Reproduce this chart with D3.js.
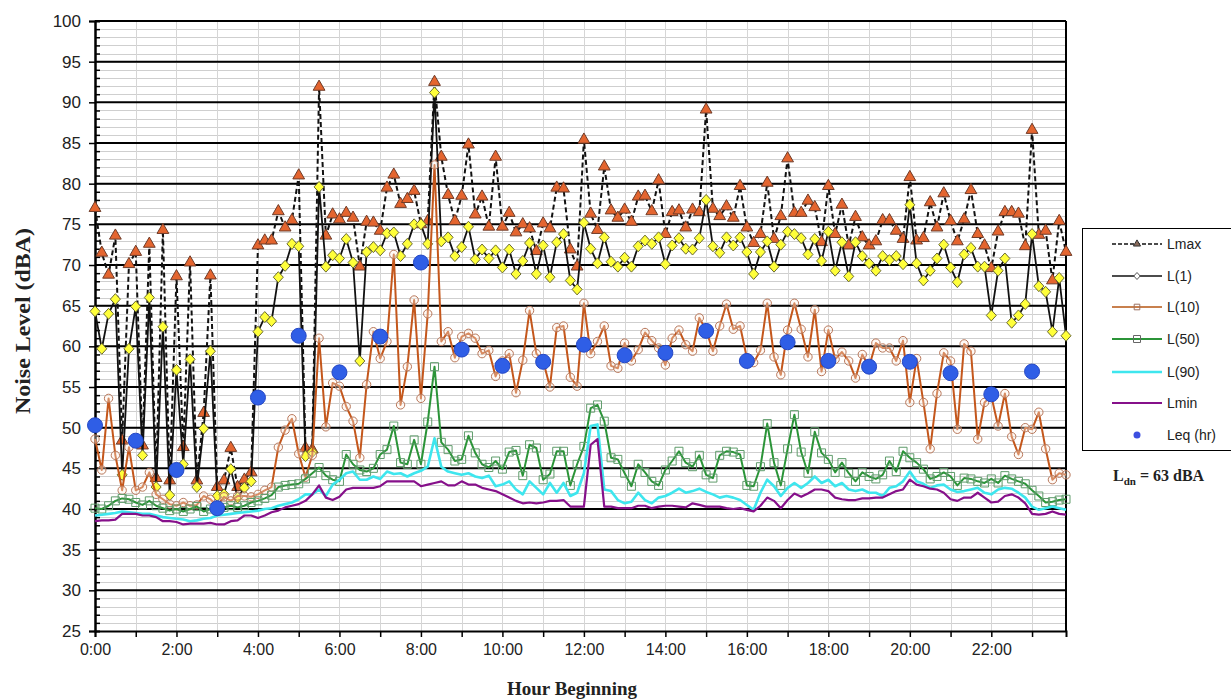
<!DOCTYPE html>
<html>
<head>
<meta charset="utf-8">
<script src="https://cdn.jsdelivr.net/npm/d3@7"></script>
<style>
body{margin:0;background:#fff;}
svg text{font-family:Arial,"Liberation Sans",sans-serif;fill:#222;}
</style>
</head>
<body>
<svg id="chart" width="1231" height="700"></svg>
<script>
// 10 minute intervals, minutes after midnight
var minutes = d3.range(0, 1440, 10);

var lmax = [77,71.5,68.8,73.6,48.4,70.1,71.6,47.8,72.6,43.8,74.3,43.5,68.6,47.6,70.3,43.5,51.8,68.7,42.7,43.5,47.5,42.7,43.6,44.5,
	72.4,73,73,76.6,74.6,75.5,81,47.5,47.3,91.9,73.6,76.2,75.6,76.4,75.8,69.8,75.3,75.2,74.2,79.5,81.1,77.5,78.1,79.1,
	75,75.4,92.5,83.3,78.6,75.4,78.5,84.8,76.2,78.4,74.7,83.3,74.7,76.4,74,75,74.5,71.7,75.1,74.5,79.5,79.4,71.9,69.8,
	85.4,76.3,74.3,82.1,76.7,75.8,76.8,75.3,78.4,78.5,76.6,80.4,73.8,76.5,76.7,74.6,76.8,76.5,89.1,76.9,76,77.2,75.8,79.7,
	74.6,72.7,73.8,80.1,73.2,76,83.1,76.4,76.4,77.9,77.1,72.8,79.7,73.8,77.4,72.4,75.9,73.4,72.4,72.9,75.5,75.5,74.2,73.2,
	80.8,73,73.3,77.7,74.6,78.8,75.4,72.9,75.6,79.2,73.8,72.4,69.6,74.1,76.5,76.5,76.3,72.3,86.6,73.7,74.2,68.1,75.4,71.6];

var l1 = [64.3,59.7,64,65.8,44.2,59.7,64.9,46.6,66,42.7,62.4,41.7,57.1,45.5,58.4,42.7,49.9,59.4,41.6,41.8,44.9,41.4,42.6,43.4,
	61.8,63.6,63.1,68.5,69.9,72.6,72.3,46.5,47,79.6,69.8,71.2,70.8,73.2,70.3,58.2,71.6,72.2,71.8,73.9,74,71.1,72.6,75,
	75,72.6,91.2,72.9,73.4,71.1,72.2,74.7,70.7,71.9,70.8,71.8,69.7,71.9,68.9,70.5,72.7,68.9,72.4,68.5,72.8,73.8,68.1,67,
	75.2,72,70.2,73.4,70.4,69.8,70.9,69.8,72.3,73,72.6,73.4,70.1,72.4,73.3,72,71.9,73.3,78,72.3,71.5,73.4,72.4,73.4,
	71.6,68.9,71.6,72.9,69.8,72.5,74.1,73.8,73.3,71.3,73.2,70.5,74.1,69.3,72.8,68.6,72.8,71.1,70.2,69.3,71.1,70.6,71.1,70.1,
	77.4,70.2,68.1,69.3,70.8,72.5,69.7,67.9,71.3,72.1,69.8,69.8,63.8,69.3,70.8,62.9,63.8,65.2,73.8,67.4,66.7,61.8,68.4,61.3];

var l10 = [48.6,44.8,53.6,46.6,42.3,47.6,42.3,42.7,44.5,41.8,41.2,40.6,40.4,40.8,40.4,40.5,41.6,41.2,40.4,41.5,41,41.6,41.6,41.5,
	41.8,42.3,42.7,47.6,49.7,51.1,46.8,43.9,46.6,61,50.1,55.5,55.1,52.6,50.8,46.3,55.3,61.8,58.5,60.6,71.3,52.8,57.5,65.7,
	53.6,64,82.3,60.6,61.8,58.6,61.2,61.6,61,59.1,59.5,56.3,58.2,59.1,54.3,58.3,64.4,59.1,58.2,55,62.3,62.5,56.2,55.1,
	65.3,59.1,60.6,62.5,57.6,57.3,60.4,58.2,59.6,61.7,60.7,59.8,57.7,61,62,60.2,59.4,63.5,62,59.4,62.5,65.2,62.1,62.5,
	58.6,58,59.5,65.3,58.7,56.5,62,65.3,62.1,58.7,64.5,56.9,62,58.4,59.3,58.2,56.1,59,57.5,60.4,59.8,59.8,58.2,60.7,
	53.1,58.5,53.1,47.4,54.2,59.2,58.2,49.8,60.3,59.4,48.6,53.1,53.9,50.2,54.2,48.9,46.7,50,49.8,51.9,47.4,43.6,44.4,44.2];

var l50 = [40.1,40,40.4,41,41.3,41.2,40.8,40.5,41,40.4,40.1,39.8,40,39.7,40,40.3,39.7,40,39.8,40.2,40.4,40.2,40.4,40.8,
	41,41.3,41.7,42.7,42.9,43,43.1,43.7,44.4,45.1,44.1,43.6,43.4,46.7,45.5,44.8,44.6,45,46.7,47.3,50.2,45.7,45.5,48.5,
	45.5,50.7,57.5,48.2,47.3,45.9,46.1,49,46.9,45.5,45.1,45.9,44.9,47,47.2,44.1,47.9,47.5,43.6,44.3,47.1,47.1,42.9,45.5,
	47.7,52.4,52.8,50.8,46.3,46.1,44.4,42.8,45.5,44.5,43.4,42.9,44.8,45.9,47.1,45.7,45.2,46.6,44.2,43.8,46.6,47.1,47,46.7,
	42.9,42.8,45.2,50.5,45.7,42.9,47.4,51.6,47,44.4,49.5,46.9,46.1,44.5,45.7,44.4,43.4,44.5,44,43.7,44.2,45.9,44.6,47.1,
	46.3,45.7,44.9,43.7,44,44.5,44,42.9,43.8,43.7,43.4,43.2,43.7,43.2,44.1,43.7,43.4,43.1,42.3,41.6,40.8,40.9,41.1,41.2];

var l90 = [39.2,39.3,39.4,39.5,39.7,39.6,39.5,39.4,39.4,39.2,39,38.9,38.8,38.7,38.5,38.6,38.8,38.9,39.2,39.3,39.4,39.5,39.6,39.7,
	39.8,40,40.1,40.4,40.6,40.8,41.2,41.8,41.8,42.4,41.6,43,43.6,44.4,44.6,43.6,43.6,44,43.7,44.6,44.3,44.4,44,44.4,
	44.7,45.2,48.7,45.2,44.6,44.4,44.2,44.4,44,43.8,44.1,42.8,43,43.4,42.4,41.8,43.4,42.6,41.8,43.2,42,43.2,41.6,42,
	44.4,50.2,50.4,42.4,42.2,41.1,40.7,40.9,42,41.1,40.7,41.4,41.6,42,42.5,42,42.2,42.5,42.1,41.8,41.4,41.6,41.4,41.1,
	40.5,39.9,42,43.6,42.8,41.6,42.6,43.2,42.6,43.2,44,43.2,43.6,42.8,43.2,42.4,42.2,42.4,42,42,41.6,42.6,42.8,43.4,
	44.6,43.4,43.1,42.6,42.9,43,42.4,42.1,42.2,42.4,42.6,42,41.8,42.4,42.6,42.5,42,41.4,40.3,39.9,40.1,40.3,40.1,39.9];

var lmin = [38.5,38.6,38.6,38.7,39.4,39.4,39.4,39.2,39.2,39,38.5,38.5,38.4,38.1,38.2,38.2,38.2,38.3,38.1,38.1,38.5,38.6,39.2,39.2,
	38.9,39.2,39.6,39.8,40.2,40.4,40.6,41,41.8,42.9,41.4,41.1,41.5,42.4,42.6,42.6,42.6,42.6,42.8,43.4,43.4,43.4,43.4,43.4,
	42.8,43,43.2,43.4,42.9,42.9,43.4,43,43,42.6,42.4,42.2,41.8,41.4,41,40.7,40.8,40.7,40.8,41,41,41.1,40.3,40.3,
	40.3,47.9,48.6,40.3,40.3,40.1,40.1,40.1,40.4,40.4,40.1,40.3,40.4,40.4,40.3,40.2,40.7,40.5,40.3,40.3,40.3,40.1,40,40.1,
	39.9,39.7,40.4,41.4,41,40.1,41.1,41.9,41.5,41.9,42.4,42.4,42.2,41.4,41.2,41.1,41.1,41.3,41.3,41.4,41.4,41.8,42.2,42.4,
	43.6,43,42.8,42.5,42.4,42,41.2,41,41.4,41.4,42,41.4,40.8,40.9,41.6,41.8,41.4,40.7,39.4,39.3,39.4,39.7,39.4,39.3];

// hourly Leq, plotted at the start of each hour
var leqHours = [0,60,120,180,240,300,360,420,480,540,600,660,720,780,840,900,960,1020,1080,1140,1200,1260,1320,1380];
var leq = [50.3,48.4,44.8,40.1,53.7,61.3,56.8,61.2,70.3,59.6,57.6,58.1,60.2,58.9,59.2,61.9,58.2,60.5,58.2,57.5,58.1,56.7,54.1,56.9];

var xTickLabels = ["0:00","2:00","4:00","6:00","8:00","10:00","12:00","14:00","16:00","18:00","20:00","22:00"];
var legendNames = ["Lmax","L(1)","L(10)","L(50)","L(90)","Lmin","Leq (hr)"];

var svg = d3.select("#chart");
var plotL = 95, plotR = 1066, plotT = 21, plotB = 631;

var x = d3.scaleLinear().domain([0, 1430]).range([plotL, plotR]);
var y = d3.scaleLinear().domain([25, 100]).range([plotB, plotT]);

svg.append("rect").attr("width", 1231).attr("height", 700).attr("fill", "#fff");

// minor grid (1 dB) and hour grid
svg.append("g").selectAll("line")
	.data(d3.range(26, 100))
	.enter().append("line")
	.attr("x1", plotL).attr("x2", plotR)
	.attr("y1", function(d){ return Math.round(y(d)) + 0.5; })
	.attr("y2", function(d){ return Math.round(y(d)) + 0.5; })
	.attr("stroke", "#cfcfcf").attr("stroke-width", 1);

svg.append("g").selectAll("line")
	.data(d3.range(60, 1440, 60))
	.enter().append("line")
	.attr("x1", function(d){ return Math.round(x(d)) + 0.5; })
	.attr("x2", function(d){ return Math.round(x(d)) + 0.5; })
	.attr("y1", plotT).attr("y2", plotB)
	.attr("stroke", "#d6d6d6").attr("stroke-width", 1);

// major grid (5 dB)
svg.append("g").selectAll("line")
	.data(d3.range(30, 101, 5))
	.enter().append("line")
	.attr("x1", plotL).attr("x2", plotR)
	.attr("y1", function(d){ return y(d); })
	.attr("y2", function(d){ return y(d); })
	.attr("stroke", "#000").attr("stroke-width", 2);

// axes
var yAxis = svg.append("g")
	.attr("transform", "translate(" + plotL + ",0)")
	.call(d3.axisLeft(y).tickValues(d3.range(25, 101, 5)).tickSize(6).tickPadding(8));
yAxis.selectAll("text").style("font-size", "17px").attr("fill", "#222");

svg.append("g")
	.attr("transform", "translate(" + plotL + ",0)")
	.call(d3.axisLeft(y).tickValues(d3.range(26, 100).filter(function(d){ return d % 5 != 0; })).tickSize(-5).tickFormat(""));

var xAxis = svg.append("g")
	.attr("transform", "translate(0," + plotB + ")")
	.call(d3.axisBottom(x).tickValues(d3.range(0, 1440, 60)).tickSize(6).tickPadding(7)
		.tickFormat(function(d){ return d % 120 == 0 ? xTickLabels[d / 120] : ""; }));
xAxis.selectAll("text").style("font-size", "16px").attr("fill", "#222");

svg.selectAll(".domain").attr("stroke", "#000").attr("stroke-width", 2);
svg.selectAll(".tick line").attr("stroke", "#000").attr("stroke-width", 1.5);

svg.append("line")
	.attr("x1", plotR).attr("x2", plotR).attr("y1", plotT).attr("y2", plotB)
	.attr("stroke", "#000").attr("stroke-width", 2);

// axis titles
svg.append("text")
	.attr("transform", "translate(30,321) rotate(-90)")
	.attr("text-anchor", "middle")
	.attr("textLength", 186).attr("lengthAdjust", "spacingAndGlyphs")
	.style("font-family", "'Liberation Serif','Times New Roman',serif")
	.style("font-weight", "bold").style("font-size", "21px")
	.text("Noise Level (dBA)");

svg.append("text")
	.attr("x", 572).attr("y", 695)
	.attr("text-anchor", "middle")
	.style("font-family", "'Liberation Serif','Times New Roman',serif")
	.style("font-weight", "bold").style("font-size", "19px")
	.text("Hour Beginning");

// series
var line = d3.line()
	.x(function(d, i){ return x(minutes[i]); })
	.y(function(d){ return y(d); });

var plot = svg.append("g");

var triPath = d3.symbol(d3.symbolTriangle, 60)();
var diaPath = "M0,-5.5L5,0L0,5.5L-5,0Z";
var sqPath = "M-4,-4H4V4H-4Z";

function drawSeries(data, cfg){
	plot.append("path")
		.attr("d", line(data))
		.attr("fill", "none")
		.attr("stroke", cfg.color)
		.attr("stroke-width", cfg.width)
		.attr("stroke-dasharray", cfg.dash || null)
		.attr("stroke-linejoin", "round");
	if(cfg.marker){
		plot.append("g").selectAll("path")
			.data(data)
			.enter().append("path")
			.attr("d", cfg.marker)
			.attr("transform", function(d, i){ return "translate(" + x(minutes[i]) + "," + y(d) + ")"; })
			.attr("fill", cfg.fill)
			.attr("stroke", cfg.stroke)
			.attr("stroke-width", 1);
	}
}

drawSeries(lmax, {color:"#111", width:2, dash:"5,3", marker:triPath, fill:"#e4652f", stroke:"#6e3b28"});
drawSeries(l1, {color:"#111", width:1.8, marker:diaPath, fill:"#ffff3a", stroke:"#6a6a30"});
drawSeries(l10, {color:"#c4571c", width:2, marker:d3.symbol(d3.symbolCircle, 55)(), fill:"rgba(255,240,230,0.35)", stroke:"#b8775a"});
drawSeries(l50, {color:"#2b9438", width:2, marker:sqPath, fill:"none", stroke:"#5f9c6b"});
drawSeries(l90, {color:"#3ee6ee", width:2.6});
drawSeries(lmin, {color:"#86108a", width:2.2});

plot.append("g").selectAll("circle")
	.data(leq)
	.enter().append("circle")
	.attr("cx", function(d, i){ return x(leqHours[i]); })
	.attr("cy", function(d){ return y(d); })
	.attr("r", 7.5)
	.attr("fill", "#2f5ee6")
	.attr("stroke", "#2447c4")
	.attr("stroke-width", 1);

// legend
var legend = svg.append("g");
legend.append("rect")
	.attr("x", 1082.5).attr("y", 228.5).attr("width", 160).attr("height", 222)
	.attr("fill", "#fff").attr("stroke", "#000").attr("stroke-width", 1);

var legendStyles = [
	{color:"#111", width:1.6, dash:"4,2", marker:d3.symbol(d3.symbolTriangle, 22)(), fill:"#8a6a5a", stroke:"#333"},
	{color:"#111", width:1.6, marker:"M0,-3.5L3.2,0L0,3.5L-3.2,0Z", fill:"#fff", stroke:"#555"},
	{color:"#c8804e", width:2, marker:"M-2.8,-2.8H2.8V2.8H-2.8Z", fill:"none", stroke:"#9a7060"},
	{color:"#2b9438", width:2, marker:"M-3.5,-3.5H3.5V3.5H-3.5Z", fill:"none", stroke:"#666"},
	{color:"#3ee6ee", width:2.6},
	{color:"#86108a", width:2},
	{dot:true}
];
var legendY = [244, 276, 307, 339, 372, 403, 435];

legendNames.forEach(function(name, i){
	var st = legendStyles[i];
	var ly = legendY[i];
	if(st.dot){
		legend.append("circle").attr("cx", 1137).attr("cy", ly).attr("r", 3.5).attr("fill", "#3d4fe0");
	}else{
		legend.append("line")
			.attr("x1", 1112).attr("x2", 1162).attr("y1", ly).attr("y2", ly)
			.attr("stroke", st.color).attr("stroke-width", st.width)
			.attr("stroke-dasharray", st.dash || null);
		if(st.marker){
			legend.append("path").attr("d", st.marker)
				.attr("transform", "translate(1137," + ly + ")")
				.attr("fill", st.fill).attr("stroke", st.stroke).attr("stroke-width", 1);
		}
	}
	legend.append("text")
		.attr("x", 1167).attr("y", ly + 5)
		.style("font-size", "14px")
		.text(name);
});

var ldn = svg.append("text")
	.attr("x", 1113).attr("y", 481)
	.style("font-family", "'Liberation Serif','Times New Roman',serif")
	.style("font-weight", "bold").style("font-size", "16px");
ldn.append("tspan").text("L");
ldn.append("tspan").attr("dy", 4).style("font-size", "11px").text("dn");
ldn.append("tspan").attr("dy", -4).text(" = 63 dBA");
</script>
</body>
</html>
